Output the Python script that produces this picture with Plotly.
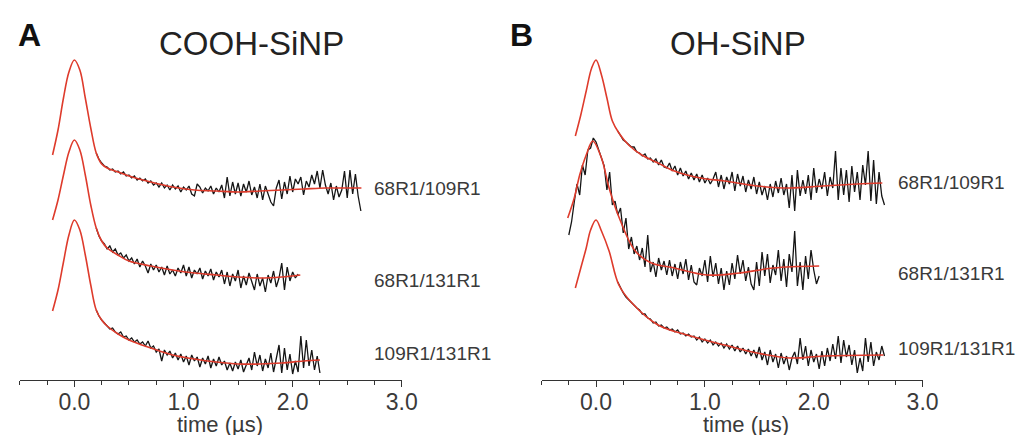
import plotly.graph_objects as go

# ---------------- data (signal heights in a.u., traces stacked) ----------------
# Panel A: COOH-SiNP
A1_fit_t = [-0.20, -0.15, -0.10, -0.05, 0.00, 0.05, 0.10, 0.15, 0.20, 0.25, 0.30, 0.40, 0.50, 0.70, 0.90, 1.10, 1.30, 1.50, 1.70, 1.90, 2.10, 2.30, 2.50, 2.63]
A1_fit_y = [225, 250, 282, 308, 320, 310, 282, 252, 227, 216, 212, 208, 204, 198, 193, 190, 189, 188, 189, 190, 191, 192, 192, 192]
A1_t0, A1_dt = 0.20, 0.025
A1_y = [227, 221, 217, 214, 213, 210, 211, 208, 209, 206, 208, 204, 205, 202, 204, 200, 202, 199, 201, 197,
        199, 195, 197, 193, 197, 192, 195, 190, 195, 191, 194, 188, 193, 190, 194, 186, 184, 196, 193, 187,
        192, 189, 194, 186, 192, 188, 195, 182, 203, 184, 198, 186, 197, 184, 196, 188, 199, 185, 193, 182,
        196, 180, 194, 186, 178, 174, 192, 200, 181, 198, 186, 204, 188, 201, 196, 203, 185, 199, 193, 205,
        196, 209, 192, 210, 195, 186, 197, 180, 194, 183, 190, 209, 182, 210, 186, 206, 184, 169]

A2_fit_t = [-0.20, -0.15, -0.10, -0.05, 0.00, 0.05, 0.10, 0.15, 0.20, 0.25, 0.30, 0.40, 0.50, 0.70, 0.90, 1.10, 1.30, 1.50, 1.70, 1.90, 2.07]
A2_fit_y = [160, 180, 205, 228, 240, 230, 205, 175, 152, 139, 132, 125, 119, 114, 110, 107, 105, 103, 102, 103, 105]
A2_t0, A2_dt = 0.20, 0.025
A2_y = [152, 144, 139, 136, 131, 134, 128, 131, 125, 127, 122, 125, 119, 122, 116, 121, 113, 119, 114, 107,
        116, 110, 115, 108, 113, 105, 114, 106, 110, 104, 112, 107, 115, 104, 113, 102, 110, 106, 112, 101,
        109, 104, 111, 100, 108, 103, 110, 96, 108, 94, 106, 99, 110, 92, 104, 95, 107, 98, 90, 106,
        94, 102, 88, 105, 97, 109, 93, 102, 117, 90, 113, 99, 108, 102, 106]

A3_fit_t = [-0.20, -0.15, -0.10, -0.05, 0.00, 0.05, 0.10, 0.15, 0.20, 0.25, 0.30, 0.40, 0.50, 0.70, 0.90, 1.10, 1.30, 1.50, 1.70, 1.90, 2.10, 2.25]
A3_fit_y = [69, 90, 118, 145, 160, 150, 125, 95, 70, 60, 54, 46, 40, 32, 25, 21, 18, 16, 16, 17, 19, 20]
A3_t0, A3_dt = 0.20, 0.025
A3_y = [70, 64, 60, 57, 54, 51, 52, 48, 46, 48, 43, 44, 40, 42, 38, 40, 36, 38, 34, 39,
        32, 34, 28, 31, 19, 30, 25, 29, 22, 27, 20, 26, 18, 24, 15, 25, 19, 23, 13, 22,
        16, 24, 12, 21, 14, 23, 15, 19, 10, 17, 9, 18, 11, 20, 8, 15, 22, 10, 28, 14,
        25, 9, 21, 12, 27, 8, 23, 35, 7, 32, 10, 26, 6, 19, 8, 44, 12, 40, 14, 30,
        10, 24, 7]

# Panel B: OH-SiNP
B1_fit_t = [-0.19, -0.14, -0.09, -0.04, 0.00, 0.05, 0.10, 0.15, 0.21, 0.30, 0.42, 0.57, 0.72, 0.96, 1.18, 1.48, 1.78, 2.08, 2.40, 2.63]
B1_fit_y = [244, 265, 289, 312, 320, 305, 282, 259, 247, 235, 225, 217, 209, 202, 199, 194, 192, 194, 196, 197]
B1_t0, B1_dt = 0.20, 0.025
B1_y = [249, 244, 240, 238, 235, 233, 233, 228, 227, 224, 226, 221, 222, 218, 221, 215, 220, 213, 212, 217,
        209, 214, 205, 212, 204, 209, 201, 207, 200, 206, 198, 205, 197, 202, 196, 201, 208, 193, 205, 191,
        203, 196, 208, 189, 206, 194, 204, 188, 200, 191, 203, 186, 198, 185, 194, 180, 196, 183, 199, 187,
        202, 185, 196, 172, 205, 169, 210, 184, 200, 186, 205, 180, 212, 187, 201, 191, 208, 184, 203, 192,
        229, 180, 212, 185, 210, 178, 214, 188, 208, 180, 215, 195, 229, 179, 220, 176, 208, 184, 175]

B2_fit_t = [-0.26, -0.20, -0.15, -0.09, -0.03, 0.05, 0.12, 0.21, 0.36, 0.51, 0.72, 1.02, 1.32, 1.63, 2.05]
B2_fit_y = [162, 182, 205, 225, 239, 222, 192, 163, 129, 117, 112, 105, 107, 112, 114]
B2_t0, B2_dt = -0.25, 0.025
B2_y = [145, 158, 178, 196, 185, 215, 205, 230, 232, 242, 238, 230, 222, 214, 190, 208, 175, 179, 165, 172,
        147, 162, 131, 143, 126, 134, 120, 132, 113, 145, 108, 118, 103, 122, 110, 119, 105, 120, 104, 116,
        101, 118, 106, 121, 100, 115, 98, 95, 112, 104, 120, 98, 124, 103, 117, 96, 112, 90, 109, 95,
        117, 101, 125, 106, 120, 99, 113, 96, 90, 118, 94, 128, 104, 126, 97, 115, 105, 130, 99, 121,
        93, 126, 108, 149, 94, 118, 90, 124, 101, 130, 110, 96, 104]

B3_fit_t = [-0.19, -0.14, -0.09, -0.05, 0.00, 0.05, 0.12, 0.21, 0.33, 0.57, 0.87, 1.18, 1.48, 1.78, 2.09, 2.64]
B3_fit_y = [92, 112, 132, 150, 160, 149, 129, 95, 77, 55, 44, 35, 27, 22, 24, 25]
B3_t0, B3_dt = 0.20, 0.025
B3_y = [98, 92, 87, 83, 80, 77, 75, 72, 70, 66, 66, 62, 61, 57, 58, 54, 55, 52, 53, 50,
        51, 48, 50, 46, 47, 44, 46, 43, 44, 40, 43, 38, 41, 37, 40, 35, 38, 34, 37, 32,
        36, 31, 35, 29, 34, 28, 32, 26, 31, 24, 30, 22, 33, 20, 28, 15, 30, 18, 26, 12,
        27, 16, 24, 10, 22, 28, 16, 42, 20, 34, 14, 30, 18, 26, 11, 29, 14, 32, 19, 36,
        21, 44, 17, 40, 23, 35, 15, 30, 7, 22, 9, 42, 18, 38, 14, 28, 20, 34, 24]

labels = ["68R1/109R1", "68R1/131R1", "109R1/131R1"]
tick_vals = [0, 1, 2, 3]
tick_text = ["0.0", "1.0", "2.0", "3.0"]


def sample_times(t0, dt, n):
    return [round(t0 + i * dt, 4) for i in range(n)]


RED = "#de3b2c"
BLACK = "#151515"
TXT = "#3a3a3a"
FONT = "Liberation Sans, Arial, sans-serif"

fig = go.Figure()

panels = [
    ("x", "y", [(A1_t0, A1_dt, A1_y, A1_fit_t, A1_fit_y),
                (A2_t0, A2_dt, A2_y, A2_fit_t, A2_fit_y),
                (A3_t0, A3_dt, A3_y, A3_fit_t, A3_fit_y)]),
    ("x2", "y2", [(B1_t0, B1_dt, B1_y, B1_fit_t, B1_fit_y),
                  (B2_t0, B2_dt, B2_y, B2_fit_t, B2_fit_y),
                  (B3_t0, B3_dt, B3_y, B3_fit_t, B3_fit_y)]),
]

for xa, ya, series in panels:
    for t0, dt, ys, ft, fy in series:
        fig.add_trace(go.Scatter(x=sample_times(t0, dt, len(ys)), y=ys, mode="lines",
                                 line=dict(color=BLACK, width=1.3), xaxis=xa, yaxis=ya,
                                 showlegend=False, hoverinfo="skip"))
    for t0, dt, ys, ft, fy in series:
        fig.add_trace(go.Scatter(x=ft, y=fy, mode="lines",
                                 line=dict(color=RED, width=1.6, shape="spline", smoothing=1.0),
                                 xaxis=xa, yaxis=ya, showlegend=False, hoverinfo="skip"))

W, H = 1032, 435
TOP, BOT = 40, 372

xcommon = dict(range=[-0.5, 3.0], showline=True, linecolor="#333", linewidth=1.2,
               ticks="outside", ticklen=6, tickwidth=1.2, tickcolor="#333",
               tickvals=tick_vals, ticktext=tick_text, showgrid=False, zeroline=False,
               tickfont=dict(family=FONT, size=23, color=TXT),
               minor=dict(dtick=0.25, tick0=0, ticks="outside", ticklen=4, tickwidth=1.2,
                          tickcolor="#333", showgrid=False))
ycommon = dict(range=[0, BOT - TOP], visible=False, showgrid=False, zeroline=False)

fig.update_layout(
    width=W, height=H, paper_bgcolor="white", plot_bgcolor="white",
    margin=dict(l=0, r=0, t=TOP, b=H - BOT),
    xaxis=dict(domain=[12 / W, 400 / W], anchor="y", **xcommon),
    xaxis2=dict(domain=[542 / W, 929 / W], anchor="y2", **xcommon),
    yaxis=dict(domain=[0, 1], anchor="x", **ycommon),
    yaxis2=dict(domain=[0, 1], anchor="x2", **ycommon),
)
try:
    fig.update_xaxes(ticklabelstandoff=-5)
except Exception:
    pass


def py(p):
    return (BOT - p) / (BOT - TOP)


ann = []
ann.append(dict(text="A", x=22 / W, y=py(27), xref="paper", yref="paper", showarrow=False,
                font=dict(family=FONT, size=32, color="#111", weight="bold"), xanchor="center", yanchor="middle"))
ann.append(dict(text="B", x=522 / W, y=py(27), xref="paper", yref="paper", showarrow=False,
                font=dict(family=FONT, size=32, color="#111", weight="bold"), xanchor="center", yanchor="middle"))
ann.append(dict(text="COOH-SiNP", x=247 / W, y=py(35), xref="paper", yref="paper", showarrow=False,
                font=dict(family=FONT, size=33, color="#222"), xanchor="center", yanchor="middle"))
ann.append(dict(text="OH-SiNP", x=741 / W, y=py(35), xref="paper", yref="paper", showarrow=False,
                font=dict(family=FONT, size=33, color="#222"), xanchor="center", yanchor="middle"))
for cx in (215, 750):
    ann.append(dict(text="time (µs)", x=cx / W, y=py(416), xref="paper", yref="paper", showarrow=False,
                    font=dict(family=FONT, size=22, color=TXT), xanchor="center", yanchor="middle"))

label_pos_A = [(370, 180), (370, 272), (370, 345)]
label_pos_B = [(902, 175), (902, 265), (902, 340)]
for lab, (lx, ly) in zip(labels, label_pos_A):
    ann.append(dict(text=lab, x=lx / W, y=py(ly), xref="paper", yref="paper", showarrow=False,
                    font=dict(family=FONT, size=19, color=TXT), xanchor="left", yanchor="middle"))
for lab, (lx, ly) in zip(labels, label_pos_B):
    ann.append(dict(text=lab, x=lx / W, y=py(ly), xref="paper", yref="paper", showarrow=False,
                    font=dict(family=FONT, size=19, color=TXT), xanchor="left", yanchor="middle"))

fig.update_layout(annotations=ann)
fig.write_html("out.html")
